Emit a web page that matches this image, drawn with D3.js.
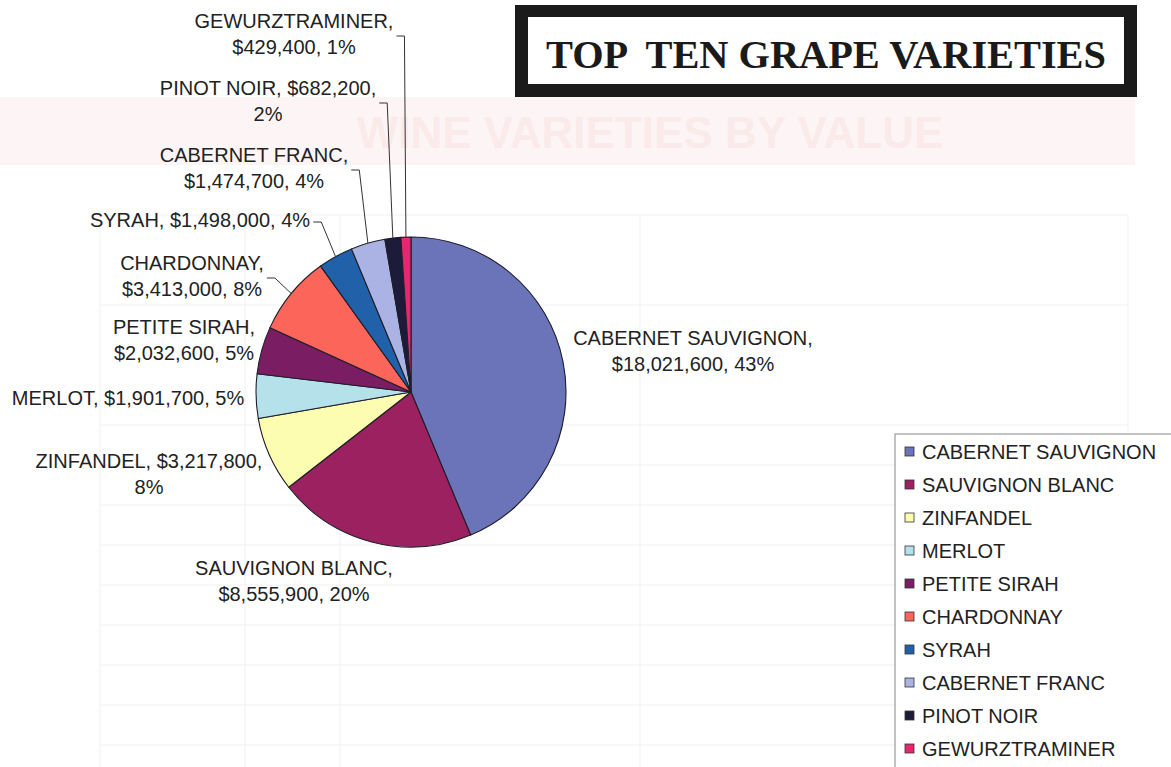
<!DOCTYPE html>
<html>
<head>
<meta charset="utf-8">
<script src="https://cdn.jsdelivr.net/npm/d3@7"></script>
<style>
  html, body { margin: 0; padding: 0; background: #ffffff; }
  svg { display: block; }
</style>
</head>
<body>
<svg id="chart" width="1171" height="767"></svg>
<script>
// ---------------- DATA ----------------
const categories = [
  "CABERNET SAUVIGNON", "SAUVIGNON BLANC", "ZINFANDEL", "MERLOT", "PETITE SIRAH",
  "CHARDONNAY", "SYRAH", "CABERNET FRANC", "PINOT NOIR", "GEWURZTRAMINER"
];
const values = [18021600, 8555900, 3217800, 1901700, 2032600, 3413000, 1498000, 1474700, 682200, 429400];
const percentLabels = ["43%", "20%", "8%", "5%", "5%", "8%", "4%", "4%", "2%", "1%"];
const sliceColors = ["#6b74b9", "#9b2160", "#fdfdb2", "#b5e2ea", "#7a1d62", "#fb655a", "#2161aa", "#aab3e3", "#1d1b3a", "#e6266f"];
const titleText = "TOP  TEN GRAPE VARIETIES";

// ---------------- LAYOUT ----------------
// label block layout: break style (0 one line, 1 break after name, 2 break after value), centre x, first baseline, leader
const labelLayout = [
  { brk: 1, x: 693, y: 345, leader: false },
  { brk: 1, x: 294, y: 575, leader: false },
  { brk: 2, x: 149, y: 468, leader: false },
  { brk: 0, x: 128, y: 405, leader: false },
  { brk: 1, x: 184, y: 334, leader: false },
  { brk: 1, x: 192, y: 270, leader: true },
  { brk: 0, x: 200, y: 227, leader: true },
  { brk: 1, x: 254, y: 162, leader: true },
  { brk: 2, x: 268, y: 95,  leader: true },
  { brk: 1, x: 294, y: 28,  leader: true }
];
const W = 1171, H = 767;
const cx = 411, cy = 392, R = 155;
const lineH = 26;
const labelFont = "'Liberation Sans', Arial, sans-serif";

const svg = d3.select("#chart");

// faint bleed-through background
const bg = svg.append("g");
bg.append("rect").attr("x", 0).attr("y", 97).attr("width", 1135).attr("height", 68).attr("fill", "#fdf5f5");
bg.append("text").attr("x", 650).attr("y", 148).attr("text-anchor", "middle")
  .attr("font-family", labelFont).attr("font-size", 44).attr("font-weight", "bold")
  .attr("fill", "#faeaea").text("WINE VARIETIES BY VALUE");
const gridY = [215, 305, 425, 465, 505, 545, 585, 625, 665, 705, 745];
const gridX = [100, 245, 340, 640, 1128];
bg.selectAll("line.h").data(gridY).join("line")
  .attr("x1", 100).attr("x2", 1128).attr("y1", d => d).attr("y2", d => d)
  .attr("stroke", "#f6f6f6").attr("stroke-width", 1.5);
bg.selectAll("line.v").data(gridX).join("line")
  .attr("x1", d => d).attr("x2", d => d).attr("y1", 215).attr("y2", H)
  .attr("stroke", "#f6f6f6").attr("stroke-width", 1.5);

// title box
svg.append("rect").attr("x", 515).attr("y", 5).attr("width", 622).attr("height", 92).attr("fill", "#1a1a1a");
svg.append("rect").attr("x", 528).attr("y", 17).attr("width", 596).attr("height", 67).attr("fill", "#ffffff");
svg.append("text").attr("x", 826).attr("y", 68).attr("text-anchor", "middle")
  .attr("font-family", "'Liberation Serif', 'Times New Roman', serif")
  .attr("font-weight", "bold").attr("font-size", 39).attr("fill", "#1a1a1a")
  .style("white-space", "pre")
  .attr("textLength", 560).attr("lengthAdjust", "spacingAndGlyphs")
  .text(titleText);

// pie
const data = categories.map((c, i) => ({ cat: c, value: values[i], pct: percentLabels[i], color: sliceColors[i], lay: labelLayout[i] }));
const pie = d3.pie().value(d => d.value).sort(null).startAngle(0).endAngle(2 * Math.PI);
const arcs = pie(data);
const arc = d3.arc().innerRadius(0).outerRadius(R);

const pg = svg.append("g").attr("transform", `translate(${cx},${cy})`);
pg.selectAll("path").data(arcs).join("path")
  .attr("d", arc)
  .attr("fill", d => d.data.color)
  .attr("stroke", "#1e1e2a").attr("stroke-width", 1.1).attr("stroke-linejoin", "round");

// labels
const fmt = d3.format(",");
function lines(d) {
  const name = d.cat, val = "$" + fmt(d.value), p = d.pct;
  if (d.lay.brk === 0) return [`${name}, ${val}, ${p}`];
  if (d.lay.brk === 1) return [`${name},`, `${val}, ${p}`];
  return [`${name}, ${val},`, p];
}
const lg = svg.append("g");
arcs.forEach(a => {
  const d = a.data;
  const t = lg.append("text")
    .attr("font-family", labelFont).attr("font-size", 20).attr("fill", "#222")
    .attr("text-anchor", "middle");
  const ls = lines(d);
  ls.forEach((s, k) => {
    t.append("tspan").attr("x", d.lay.x).attr("y", d.lay.y + k * lineH).text(s);
  });
  if (d.lay.leader) {
    const bb = t.node().getBBox();
    const x0 = bb.x + bb.width + 3;
    const capTop = d.lay.y - 14;
    const blockBottom = d.lay.y + (ls.length - 1) * lineH;
    const ym = (capTop + blockBottom) / 2 + 2;
    const mid = (a.startAngle + a.endAngle) / 2;
    const px = cx + R * Math.sin(mid), py = cy - R * Math.cos(mid);
    lg.append("polyline")
      .attr("points", `${x0},${ym} ${x0 + 8},${ym} ${px},${py}`)
      .attr("fill", "none").attr("stroke", "#333").attr("stroke-width", 1);
  }
});

// legend
const legX = 895, legY = 434, legStep = 33;
svg.append("rect").attr("x", legX).attr("y", legY).attr("width", 300).attr("height", 360)
  .attr("fill", "#ffffff").attr("stroke", "#9a9a9a").attr("stroke-width", 1.2);
const leg = svg.append("g");
const items = leg.selectAll("g").data(data).join("g")
  .attr("transform", (d, i) => `translate(${legX + 10},${legY + 18 + i * legStep})`);
items.append("rect").attr("x", 0).attr("y", -5).attr("width", 9).attr("height", 9)
  .attr("fill", d => d.color).attr("stroke", "#333").attr("stroke-width", 0.8);
items.append("text").attr("x", 17).attr("y", 7)
  .attr("font-family", labelFont).attr("font-size", 20).attr("fill", "#222")
  .text(d => d.cat);
</script>
</body>
</html>
